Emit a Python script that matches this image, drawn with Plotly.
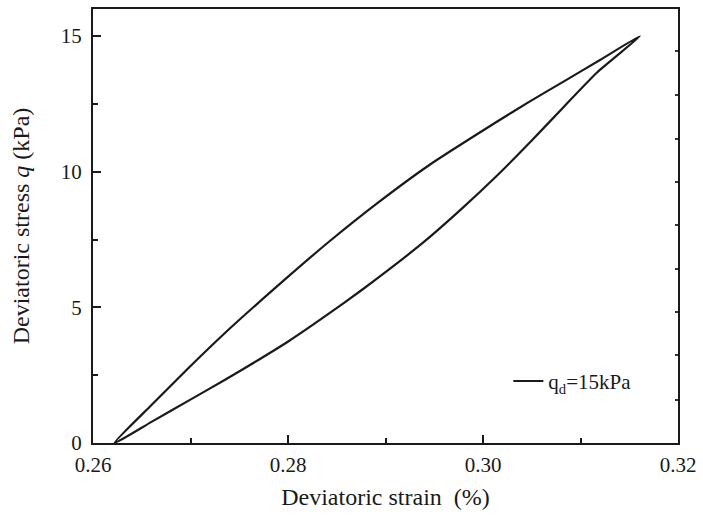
import plotly.graph_objects as go

# Upper branch (from start to peak)
upper_x = [0.2622, 0.2660, 0.2699, 0.2740, 0.2801, 0.2842, 0.2893, 0.2945, 0.3015, 0.3046, 0.3083, 0.3120, 0.3161]
upper_y = [0.00, 1.40, 2.80, 4.21, 6.16, 7.42, 8.88, 10.25, 11.86, 12.55, 13.33, 14.12, 15.00]
# Lower branch (from peak back to start)
lower_x = [0.3161, 0.3117, 0.3083, 0.3050, 0.3015, 0.2978, 0.2940, 0.2903, 0.2876, 0.2840, 0.2801, 0.2770, 0.2735, 0.2699, 0.2660, 0.2622]
lower_y = [15.00, 13.66, 12.40, 11.15, 9.88, 8.63, 7.43, 6.38, 5.65, 4.72, 3.76, 3.07, 2.32, 1.58, 0.78, 0.00]

series_name = "q<sub>d</sub>=15kPa"
x_ticks = [0.26, 0.28, 0.30, 0.32]
x_tick_labels = ["0.26", "0.28", "0.30", "0.32"]
y_ticks = [0, 5, 10, 15]
right_ticks = [1.58, 3.23, 4.84, 6.42, 8.03, 9.61, 11.22, 12.83, 14.45]

FONT = "Liberation Serif, Times New Roman, serif"
INK = "#1a1a1a"

fig = go.Figure()
fig.add_trace(go.Scatter(
    x=upper_x + lower_x[1:], y=upper_y + lower_y[1:],
    mode="lines", name=series_name,
    line=dict(color=INK, width=2.2, shape="spline", smoothing=0.6),
))
# invisible trace to carry the right-side small tick axis
fig.add_trace(go.Scatter(x=[0.26], y=[0], yaxis="y2", mode="markers",
                         marker=dict(opacity=0), showlegend=False, hoverinfo="skip"))

fig.update_layout(
    width=703, height=521,
    margin=dict(l=93, r=21, t=7, b=78),
    paper_bgcolor="white", plot_bgcolor="white",
    font=dict(family=FONT, size=21, color=INK),
    showlegend=True,
    legend=dict(x=0.71, y=0.142, xanchor="left", yanchor="middle",
                bgcolor="rgba(0,0,0,0)", font=dict(size=21, family=FONT)),
    xaxis=dict(
        range=[0.26, 0.32], tickvals=x_ticks, ticktext=x_tick_labels,
        ticks="inside", ticklen=8, tickwidth=2, tickcolor=INK, ticklabelstandoff=2,
        minor=dict(dtick=0.01, ticks="inside", ticklen=5, tickwidth=2, tickcolor=INK, showgrid=False),
        showline=True, linewidth=2, linecolor=INK, mirror=True,
        showgrid=False, zeroline=False,
        title=dict(text="Deviatoric strain  (%)", font=dict(size=24, family=FONT), standoff=12),
        tickfont=dict(size=21, family=FONT),
    ),
    yaxis=dict(
        range=[0, 16], tickvals=y_ticks,
        ticks="inside", ticklen=8, tickwidth=2, tickcolor=INK, ticklabelstandoff=5,
        minor=dict(tickvals=[2.5, 7.5, 12.5], ticks="inside", ticklen=5, tickwidth=2, tickcolor=INK, showgrid=False),
        showline=True, linewidth=2, linecolor=INK, mirror=True,
        showgrid=False, zeroline=False,
        title=dict(text="Deviatoric stress <i>q</i> (kPa)", font=dict(size=24, family=FONT), standoff=24),
        tickfont=dict(size=21, family=FONT),
    ),
    yaxis2=dict(
        range=[0, 16], overlaying="y", side="right", tickvals=right_ticks,
        ticks="inside", ticklen=3, tickwidth=1.5, tickcolor="#333333",
        showticklabels=False, showgrid=False, zeroline=False, showline=False,
    ),
)

fig.write_html("out.html")
